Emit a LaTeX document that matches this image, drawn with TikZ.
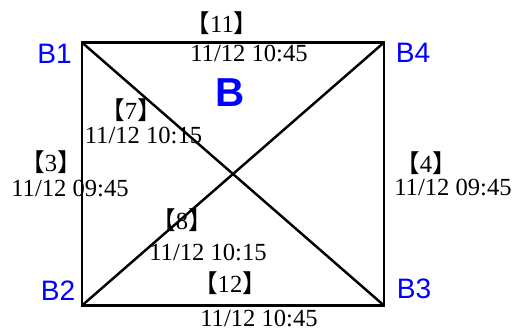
\documentclass[tikz,border=0pt]{standalone}
\usepackage{fontspec}
\setmainfont{Liberation Serif}
\setsansfont{Liberation Sans}
\newfontfamily\cjk{Noto Sans CJK TC}
\definecolor{lblblue}{RGB}{0,0,255}
\newcommand{\idx}[1]{{\cjk 【}#1{\cjk 】}}
\usetikzlibrary{positioning}

\begin{document}
\begin{tikzpicture}[
    edge/.style={line width=1.4pt},
    corner/.style={font=\fontsize{16}{16}\selectfont\sffamily, text=lblblue, inner sep=0pt},
    stamp/.style={font=\fontsize{14}{14}\selectfont, inner sep=0pt},
  ]
  \useasboundingbox (0,0) rectangle (10.34,6.64);

  % corners of the square
  \coordinate (c1) at (1.64,5.79);
  \coordinate (c4) at (7.68,5.79);
  \coordinate (c2) at (1.64,0.53);
  \coordinate (c3) at (7.68,0.53);

  \draw[edge] (c1) -- (c4) -- (c3) -- (c2) -- cycle;
  \draw[edge] (c1) -- (c3);
  \draw[edge] (c2) -- (c4);

  \node[corner] (lblB1) at (1.09,5.57) {B1};
  \node[corner] (lblB4) at (8.26,5.58) {B4};
  \node[corner] (lblB2) at (1.16,0.82) {B2};
  \node[corner] (lblB3) at (8.28,0.86) {B3};
  \node[font=\fontsize{23}{23}\selectfont\sffamily\bfseries, text=lblblue, inner sep=0pt] (title) at (4.61,4.79) {B};

  % edge stamps
  \node[stamp] (n11) at (4.44,6.18) {\idx{11}};
  \node[stamp] (t11) at (4.98,5.58) {11/12 10:45};
  \node[stamp] (n7)  at (2.62,4.44) {\idx{7}};
  \node[stamp] (t7)  at (2.87,3.94) {11/12 10:15};
  \node[stamp] (n3)  at (1.02,3.40) {\idx{3}};
  \node[stamp] (t3)  at (1.40,2.88) {11/12 09:45};
  \node[stamp] (n4)  at (8.52,3.38) {\idx{4}};
  \node[stamp] (t4)  at (9.06,2.89) {11/12 09:45};
  \node[stamp] (n8)  at (3.64,2.24) {\idx{8}};
  \node[stamp] (t8)  at (4.16,1.60) {11/12 10:15};
  \node[stamp] (n12) at (4.60,0.98) {\idx{12}};
  \node[stamp] (t12) at (5.18,0.28) {11/12 10:45};
\end{tikzpicture}
\end{document}
